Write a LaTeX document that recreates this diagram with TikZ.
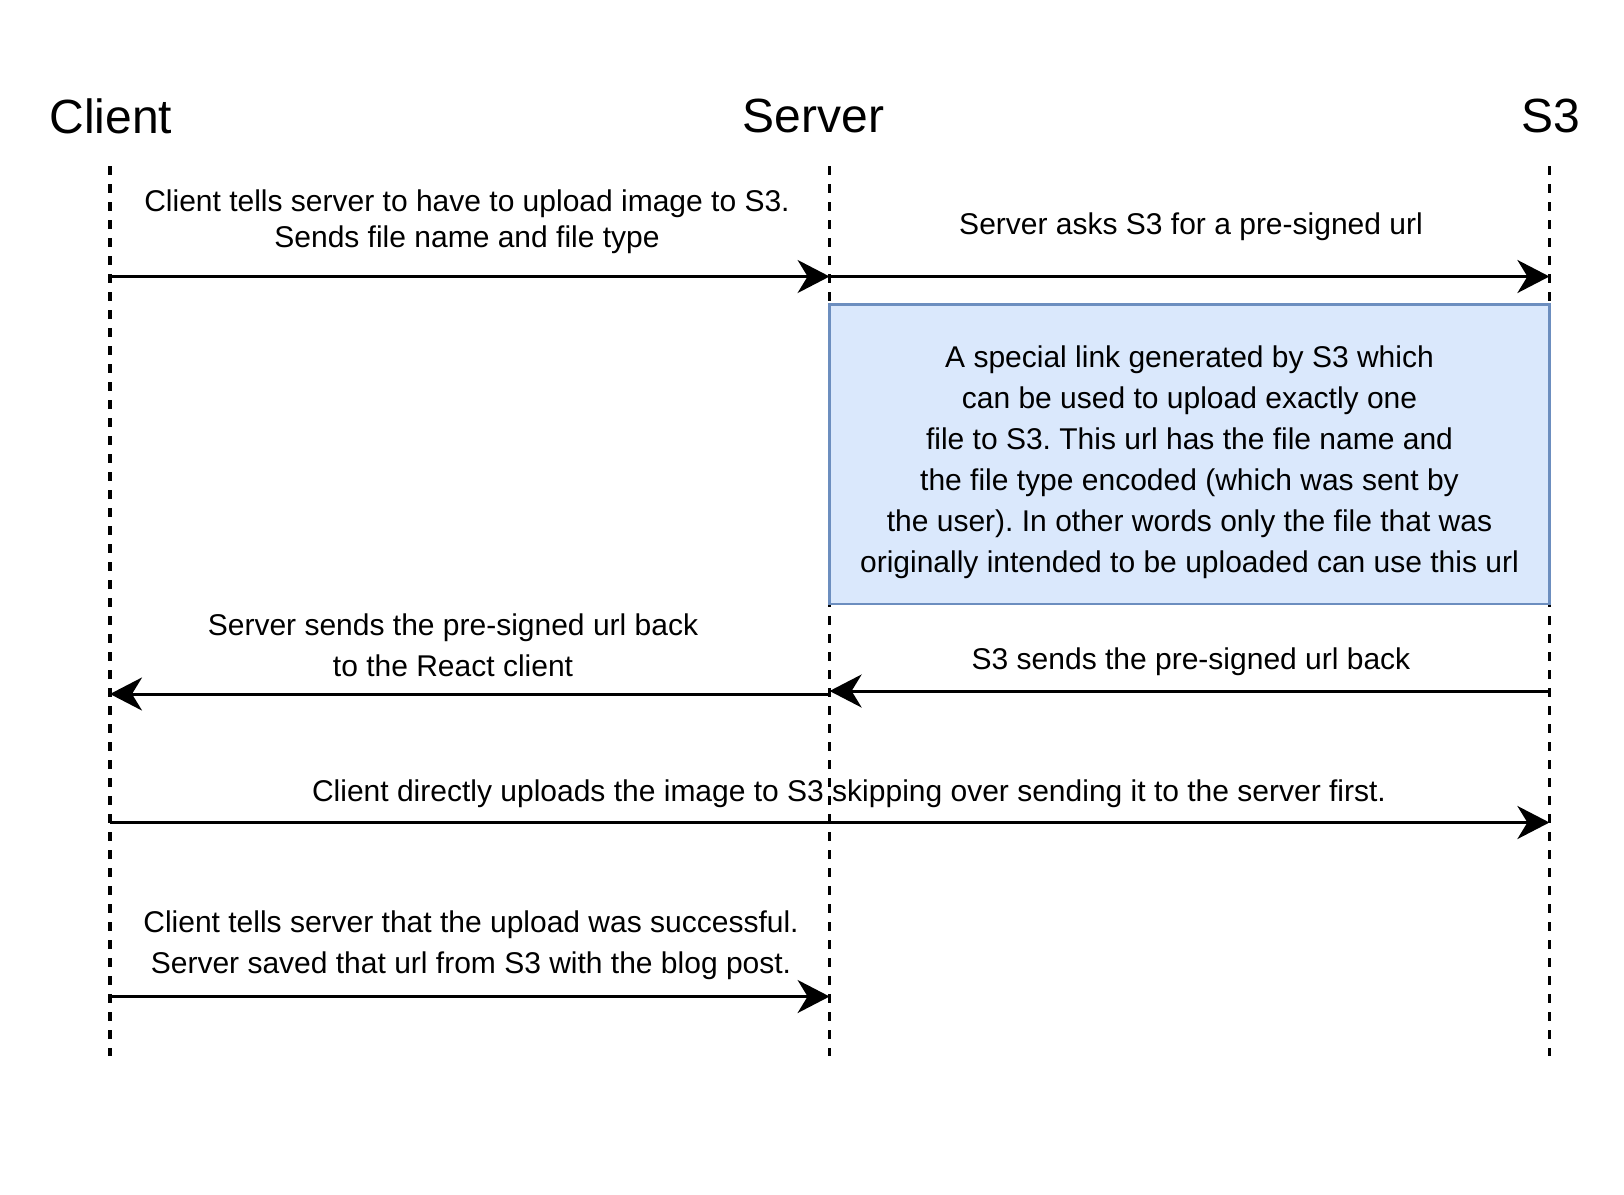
\documentclass[tikz,border=0pt]{standalone}
\usepackage{fontspec}
\setmainfont{Liberation Sans}
\frenchspacing
\usetikzlibrary{positioning}
\usetikzlibrary{arrows.meta}
\definecolor{notefill}{HTML}{DAE8FC}
\definecolor{noteline}{HTML}{6C8EBF}

\tikzset{
  actor/.style={inner sep=0pt, font=\fontsize{48}{56}\selectfont},
  lifeline/.style={line width=3.2pt, dash pattern=on 8.5pt off 9.5pt},
  msg/.style={line width=3pt, -{Stealth[length=32pt,width=33pt,inset=10pt]}},
  lbl/.style={align=center, inner sep=0pt, font=\fontsize{30}{41}\selectfont},
  note/.style={draw=noteline, fill=notefill, line width=2.5pt, inner sep=0pt,
    minimum width=719.8pt, minimum height=299.5pt}
}

\begin{document}
\begin{tikzpicture}[x=1pt,y=-1pt]
			% Canvas
			\path[fill=white,use as bounding box] (0,0) rectangle (1624,1194);

			% Actors
			\node[actor] (client) at (111,116) {Client};
			\node[actor] (server) at (813.5,116) {Server};
			\node[actor] (s3) at (1551,116) {S3};

			% Lifelines
			\foreach \n/\x in {client/110,server/829.6,s3/1549.4} {
				\coordinate (\n top) at (\x,166);
				\coordinate (\n bot) at (\x,1056);
				\draw[lifeline] (\n top) -- (\n bot);
			}

			% Message end points
			\coordinate (m1a) at (110,276.5);
			\coordinate (m1b) at (829.6,276.5);
			\coordinate (m2b) at (1549.4,276.5);
			\coordinate (m3a) at (1549.4,691);
			\coordinate (m3b) at (829.6,691);
			\coordinate (m4a) at (829.6,694);
			\coordinate (m4b) at (110,694);
			\coordinate (m5a) at (110,822.5);
			\coordinate (m5b) at (1549.4,822.5);
			\coordinate (m6a) at (110,996.5);
			\coordinate (m6b) at (829.6,996.5);

			% Pre-signed url note
			\node[note] (url) at (1189.5,454.3) {};
			\node[lbl] (urltext) at (1189.5,462) {A special link generated by S3 which\\
				can be used to upload exactly one\\
				file to S3. This url has the file name and\\
				the file type encoded (which was sent by\\
				the user). In other words only the file that was\\
				originally intended to be uploaded can use this url};

			% Messages
			\draw[msg] (m1a) -- (m1b);
			\draw[msg] (m1b) -- (m2b);
			\draw[msg] (m3a) -- (m3b);
			\draw[msg] (m4a) -- (m4b);
			\draw[msg] (m5a) -- (m5b);
			\draw[msg] (m6a) -- (m6b);

			% Labels
			\node[lbl,font=\fontsize{30}{36}\selectfont] (l1) at (467,222)
				{Client tells server to have to upload image to S3.\\Sends file name and file type};
			\node[lbl] (l2) at (1191,227) {Server asks S3 for a pre-signed url};
			\node[lbl] (l3) at (1191,662) {S3 sends the pre-signed url back};
			\node[lbl] (l4) at (453,645) {Server sends the pre-signed url back\\to the React client};
			\node[lbl] (l5) at (849,794) {Client directly uploads the image to S3 skipping over sending it to the server first.};
			\node[lbl] (l6) at (471,945) {Client tells server that the upload was successful.\\Server saved that url from S3 with the blog post.};
		\end{tikzpicture}
\end{document}
